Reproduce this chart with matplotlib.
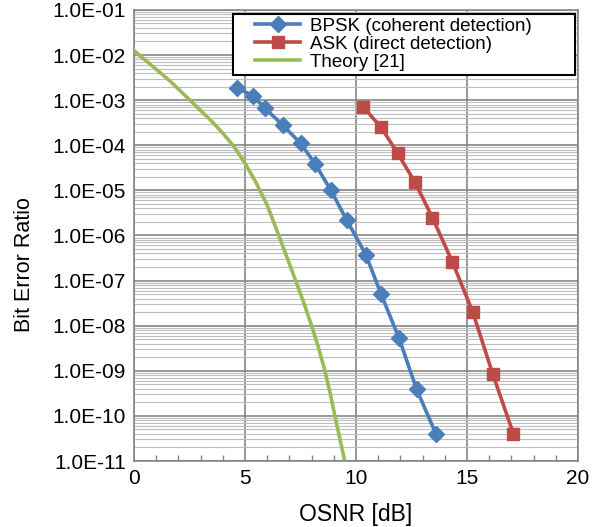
import numpy as np
import matplotlib
matplotlib.use("Agg")
import matplotlib.pyplot as plt
from matplotlib.ticker import FixedLocator, FuncFormatter, LogLocator, NullFormatter
from matplotlib.legend_handler import HandlerLine2D

plt.rcParams.update({"font.family": ["Liberation Sans", "DejaVu Sans"]})

# data
bpsk_x = [4.63, 5.35, 5.90, 6.70, 7.51, 8.15, 8.87, 9.58, 10.45, 11.13, 11.94, 12.73, 13.60]
bpsk_y = [1.9e-3, 1.25e-3, 6.6e-4, 2.8e-4, 1.1e-4, 3.9e-5, 1.0e-5, 2.2e-6, 3.7e-7, 5.0e-8, 5.3e-9, 3.9e-10, 4.0e-11]
ask_x = [10.33, 11.13, 11.88, 12.66, 13.44, 14.34, 15.26, 16.16, 17.09]
ask_y = [7.0e-4, 2.5e-4, 6.6e-5, 1.5e-5, 2.5e-6, 2.6e-7, 2.0e-8, 8.5e-10, 4.0e-11]
theo_x = [0.0, 0.72, 1.62, 2.52, 3.0, 3.5, 4.0, 4.5, 5.0, 5.5, 6.0, 6.5, 6.9,
          7.28, 7.65, 8.00, 8.3, 8.60, 8.85, 9.05, 9.47]
theo_y = [1.26e-2, 6.3e-3, 2.66e-3, 1.0e-3, 5.9e-4, 3.4e-4, 1.85e-4, 9.4e-5, 4.0e-5, 1.48e-5,
          4.7e-6, 1.07e-6, 3.2e-7, 1.0e-7, 3.2e-8, 1.0e-8, 3.4e-9, 1.0e-9, 2.95e-10,
          1.0e-10, 1.12e-11]

labels = ["BPSK (coherent detection)", "ASK (direct detection)", "Theory [21]"]
C_BLUE, C_RED, C_GREEN = "#4A7EBB", "#BE4B48", "#9BBB59"


class PadHandler(HandlerLine2D):
    # Excel-like legend: some blank room before the sample line
    def create_artists(self, legend, orig_handle, xdescent, ydescent, width, height, fontsize, trans):
        p = 0.95 * fontsize
        return super().create_artists(legend, orig_handle, xdescent - p, ydescent,
                                      width - p, height, fontsize, trans)


fig = plt.figure(figsize=(5.96, 5.27), dpi=100)
ax = fig.add_axes([0.2248, 0.1252, 0.745, 0.856])

l1, = ax.plot(bpsk_x, bpsk_y, color=C_BLUE, lw=2.6, marker="D", ms=8, label=labels[0], zorder=4)
l2, = ax.plot(ask_x, ask_y, color=C_RED, lw=2.6, marker="s", ms=9, label=labels[1], zorder=4)
l3, = ax.plot(theo_x, theo_y, color=C_GREEN, lw=2.6, label=labels[2], zorder=3,
              solid_joinstyle="round")

ax.set_yscale("log")
ax.set_xlim(0, 20)
ax.set_ylim(1e-11, 1e-1)

ax.xaxis.set_major_locator(FixedLocator([0, 5, 10, 15, 20]))
ax.xaxis.set_minor_locator(FixedLocator([i for i in range(1, 20) if i % 5]))
ax.yaxis.set_major_locator(LogLocator(base=10, numticks=20))
ax.yaxis.set_minor_locator(LogLocator(base=10, subs=np.arange(2, 10), numticks=20))
ax.yaxis.set_major_formatter(FuncFormatter(lambda v, p: f"{v:.1E}"))
ax.yaxis.set_minor_formatter(NullFormatter())

ax.grid(which="minor", axis="y", color="#BEBEBE", lw=0.8)
ax.grid(which="major", axis="both", color="#868686", lw=1.2)
ax.set_axisbelow(True)

ax.tick_params(which="major", length=0, labelsize=15, pad=6)
ax.tick_params(axis="x", which="minor", direction="in", length=4, color="#868686", width=1)
ax.tick_params(axis="y", which="minor", length=0)
for s in ax.spines.values():
    s.set_color("#868686")
    s.set_linewidth(1.2)

ax.set_xlabel("OSNR [dB]", fontsize=16.5)
ax.set_ylabel("Bit Error Ratio", fontsize=15.5)
ax.xaxis.set_label_coords(0.5, -0.092)
ax.yaxis.set_label_coords(-0.223, 0.435)

hm = {h: PadHandler() for h in (l1, l2, l3)}
leg = ax.legend(handles=[l1, l2, l3], handler_map=hm, loc="upper left",
                bbox_to_anchor=(0.223, 0.849, 0.77, 0.142), mode="expand",
                fontsize=13.5, frameon=True, fancybox=False, borderpad=0.2,
                labelspacing=0.05, handlelength=3.4, handletextpad=0.5, borderaxespad=0)
leg.get_frame().set_edgecolor("black")
leg.get_frame().set_linewidth(1.5)
leg.get_frame().set_alpha(1)

fig.savefig("out.png", dpi=100)
